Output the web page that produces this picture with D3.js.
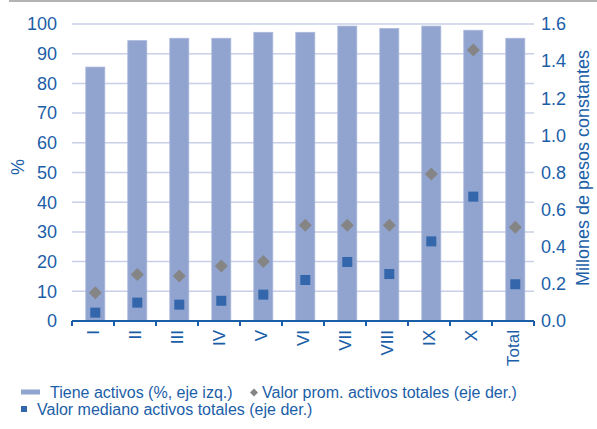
<!DOCTYPE html>
<html><head><meta charset="utf-8">
<script src="https://cdn.jsdelivr.net/npm/d3@7"></script>
<style>body{margin:0;background:#fff}svg{display:block}text{font-family:"Liberation Sans",Arial,sans-serif}</style>
</head><body><svg id="c" width="597" height="429"></svg>
<script>
const categories = ["I","II","III","IV","V","VI","VII","VIII","IX","X","Total"];
const tieneActivos = [85.5,94.4,95.2,95.2,97.2,97.2,99.3,98.5,99.3,97.9,95.2];
const valorProm = [0.152,0.25,0.242,0.296,0.32,0.516,0.516,0.516,0.792,1.46,0.505];
const valorMediano = [0.045,0.099,0.088,0.109,0.142,0.221,0.318,0.253,0.429,0.67,0.198];
const leftTicks = [0,10,20,30,40,50,60,70,80,90,100];
const rightTicks = [0,0.2,0.4,0.6,0.8,1.0,1.2,1.4,1.6];

const textColor = "#1B5EA8", barColor = "#91A4CF", gridColor = "#C8D0E8",
      sqColor = "#3366AA", diaColor = "#858585";
const svg = d3.select("#c");
const x0 = 72, x1 = 534, yTop = 24, yBot = 321;
const x = d3.scaleBand().domain(categories).range([x0, x1]).paddingInner(0).paddingOuter(0);
const yL = d3.scaleLinear().domain([0,100]).range([yBot, yTop]);
const yR = d3.scaleLinear().domain([0,1.6]).range([yBot, yTop]);
const barOff = 2.3, barW = 19;
const axFont = 18, lgFont = 16;

// top gray rule
svg.append("line").attr("x1",9).attr("x2",597).attr("y1",1).attr("y2",1).attr("stroke","#9a9a9a").attr("stroke-width",1.5);

// gridlines
svg.append("g").selectAll("line").data(leftTicks.filter(d=>d>0)).join("line")
  .attr("x1",x0).attr("x2",x1).attr("y1",d=>yL(d)).attr("y2",d=>yL(d))
  .attr("stroke",gridColor).attr("stroke-width",1.5);

// bars
svg.append("g").selectAll("rect").data(categories).join("rect")
  .attr("x",(d)=>x(d)+x.bandwidth()/2-barW/2+barOff)
  .attr("width",barW)
  .attr("y",(d,i)=>yL(tieneActivos[i]))
  .attr("height",(d,i)=>yBot-yL(tieneActivos[i]))
  .attr("fill",barColor).attr("stroke","#A9B7DB").attr("stroke-width",0.8);

// diamonds
const dS = 6.5;
svg.append("g").selectAll("path").data(categories).join("path")
  .attr("transform",(d,i)=>`translate(${x(d)+x.bandwidth()/2+barOff},${yR(valorProm[i])})`)
  .attr("d",`M0,${-dS}L${dS},0L0,${dS}L${-dS},0Z`).attr("fill",diaColor);

// squares
const sS = 10;
svg.append("g").selectAll("rect").data(categories).join("rect")
  .attr("x",d=>x(d)+x.bandwidth()/2+barOff-sS/2)
  .attr("y",(d,i)=>yR(valorMediano[i])-sS/2)
  .attr("width",sS).attr("height",sS).attr("fill",sqColor);

// bottom axis
const ax = svg.append("g").attr("transform",`translate(0,${yBot})`)
  .call(d3.axisBottom(x).tickSize(0).tickFormat(""));
ax.select(".domain").remove();
ax.append("line").attr("x1",x0).attr("x2",x1).attr("stroke",textColor).attr("stroke-width",2);
const bounds = categories.map(d=>x(d)).concat([x1]);
ax.selectAll(".tk").data(bounds).join("line").attr("class","tk")
  .attr("x1",d=>d).attr("x2",d=>d).attr("y1",0).attr("y2",5).attr("stroke",textColor).attr("stroke-width",2);
svg.append("g").selectAll("text").data(categories).join("text")
  .attr("transform",d=>`translate(${x(d)+x.bandwidth()/2},330) rotate(-90)`)
  .attr("text-anchor","end").attr("dy","0.35em").attr("font-size",17).attr("fill",textColor).text(d=>d);

// left axis labels
svg.append("g").selectAll("text").data(leftTicks).join("text")
  .attr("x",57).attr("y",d=>yL(d)).attr("dy","0.35em").attr("text-anchor","end")
  .attr("font-size",axFont).attr("fill",textColor).text(d=>d);
svg.append("text").attr("transform","translate(18,167) rotate(-90)").attr("text-anchor","middle")
  .attr("dy","0.35em").attr("font-size",axFont).attr("fill",textColor).text("%");

// right axis labels
svg.append("g").selectAll("text").data(rightTicks).join("text")
  .attr("x",541).attr("y",d=>yR(d)).attr("dy","0.35em").attr("text-anchor","start")
  .attr("font-size",axFont).attr("fill",textColor).text(d=>d.toFixed(1));
svg.append("text").attr("transform","translate(583,168) rotate(-90)").attr("text-anchor","middle")
  .attr("dy","0.35em").attr("font-size",axFont).attr("fill",textColor).text("Millones de pesos constantes");

// legend
const lg = svg.append("g");
lg.append("rect").attr("x",21).attr("y",389.5).attr("width",19).attr("height",5).attr("fill",barColor);
lg.append("text").attr("x",50).attr("y",392).attr("dy","0.35em").attr("font-size",lgFont).attr("fill",textColor).text("Tiene activos (%, eje izq.)");
lg.append("path").attr("transform","translate(254,392.5)").attr("d","M0,-4L4,0L0,4L-4,0Z").attr("fill",diaColor);
lg.append("text").attr("x",262).attr("y",392).attr("dy","0.35em").attr("font-size",lgFont).attr("fill",textColor).text("Valor prom. activos totales (eje der.)");
lg.append("rect").attr("x",21).attr("y",406).attr("width",6).attr("height",6).attr("fill",sqColor);
lg.append("text").attr("x",37).attr("y",409).attr("dy","0.35em").attr("font-size",lgFont).attr("fill",textColor).text("Valor mediano activos totales (eje der.)");
</script></body></html>
